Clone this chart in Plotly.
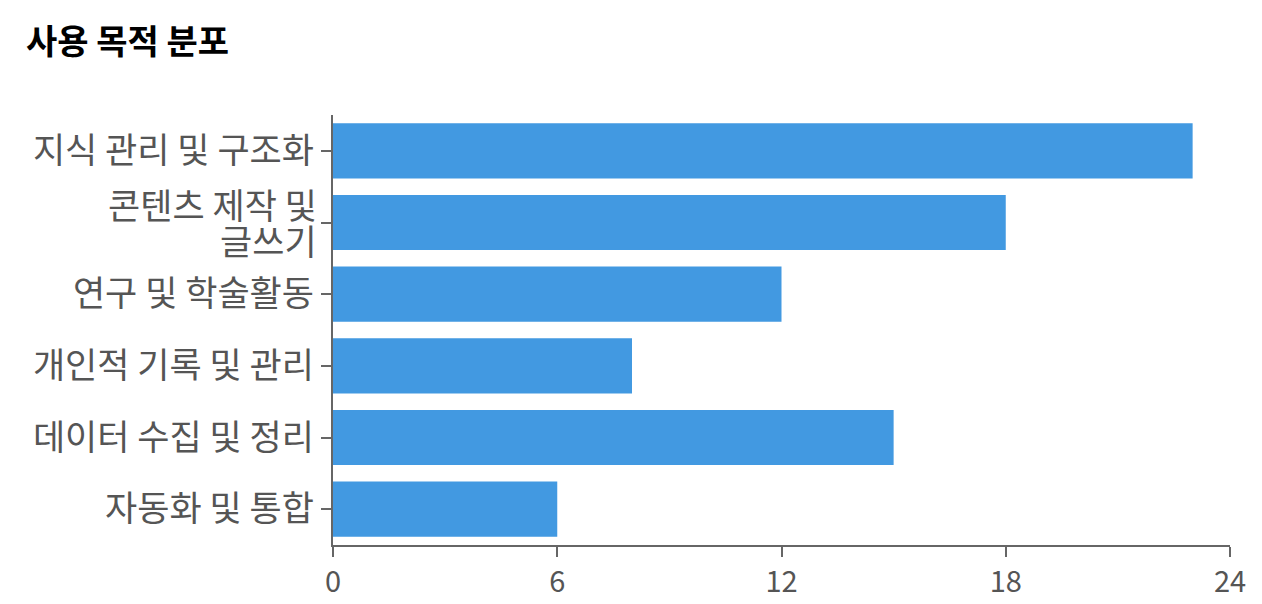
import plotly.graph_objects as go

categories = ["지식 관리 및 구조화", "콘텐츠 제작 및 글쓰기", "연구 및 학술활동",
              "개인적 기록 및 관리", "데이터 수집 및 정리", "자동화 및 통합"]
# wrapped display lines for long labels
label_lines = {"콘텐츠 제작 및 글쓰기": ["콘텐츠 제작 및", "글쓰기"]}
values = [23, 18, 12, 8, 15, 6]
x_ticks = [0, 6, 12, 18, 24]

FONT = "Noto Sans CJK KR"
LABEL_SIZE = 35
LABEL_COLOR = "#555555"
AXIS_COLOR = "#666666"

fig = go.Figure(go.Bar(
    x=values, y=categories, orientation="h",
    marker=dict(color="#4299e1", line=dict(width=0)),
    hoverinfo="x+y",
))

ticktext = ["" if c in label_lines else c for c in categories]

for c, lines in label_lines.items():
    n = len(lines)
    spacing = 36
    for i, ln in enumerate(lines):
        fig.add_annotation(
            xref="paper", x=0, yref="y", y=c,
            text=ln, showarrow=False, xanchor="right", yanchor="middle",
            xshift=-14, yshift=(n - 1) / 2 * spacing - i * spacing + 1,
            font=dict(family=FONT, size=LABEL_SIZE, color=LABEL_COLOR),
        )

fig.update_layout(
    width=1262, height=604,
    margin=dict(l=325, r=40, t=107, b=64),
    paper_bgcolor="white", plot_bgcolor="white",
    bargap=0.23,
    showlegend=False,
    font=dict(family=FONT, color=LABEL_COLOR, size=LABEL_SIZE),
    title=dict(text="<b>사용 목적 분포</b>", x=0.0143, xanchor="left", y=0.944, yanchor="middle",
               font=dict(family=FONT, size=34, color="#000000")),
)
fig.update_xaxes(
    range=[0, 24], tickvals=x_ticks, ticktext=[str(v) for v in x_ticks],
    showgrid=False, zeroline=False, showline=True, linecolor=AXIS_COLOR, linewidth=2,
    ticks="outside", ticklen=10, tickwidth=2, tickcolor=AXIS_COLOR,
    tickfont=dict(family=FONT, size=29, color=LABEL_COLOR),
)
fig.update_yaxes(
    categoryorder="array", categoryarray=categories, autorange="reversed",
    tickvals=categories, ticktext=ticktext,
    showgrid=False, zeroline=False, showline=True, linecolor=AXIS_COLOR, linewidth=2,
    ticks="outside", ticklen=10, tickwidth=2, tickcolor=AXIS_COLOR,
    tickfont=dict(family=FONT, size=LABEL_SIZE, color=LABEL_COLOR),
    ticklabelstandoff=0,
)

fig.write_html("out.html")
